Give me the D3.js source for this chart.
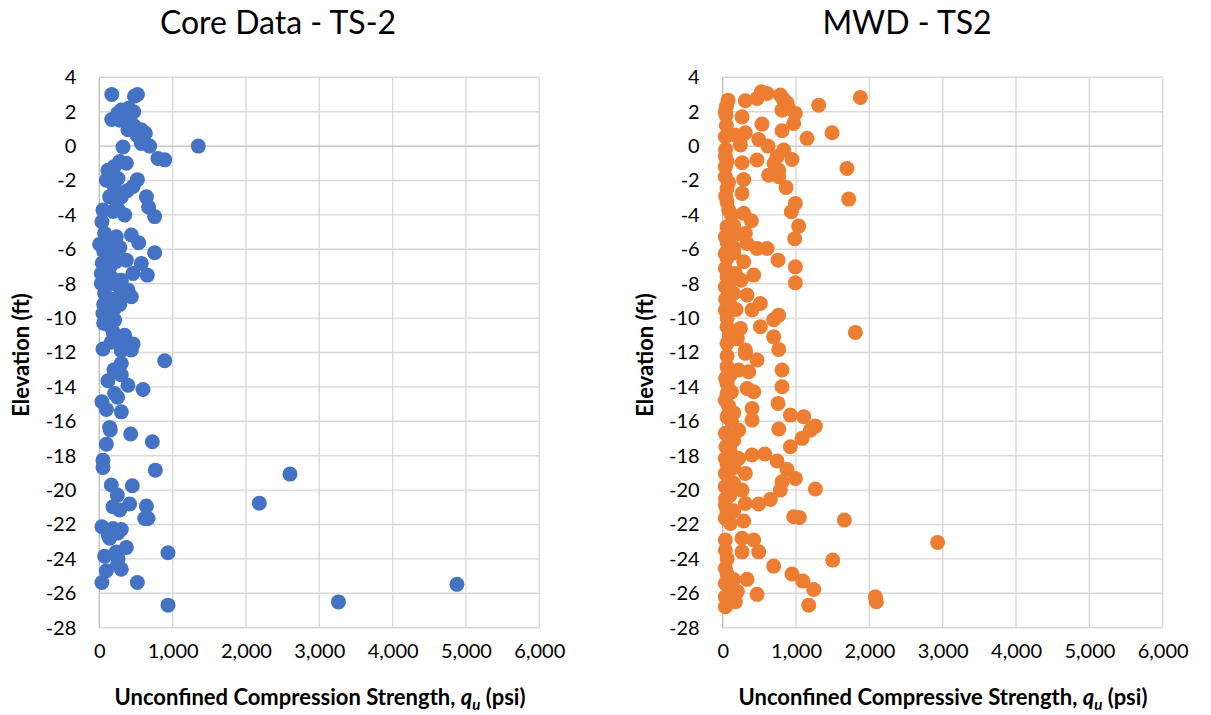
<!DOCTYPE html>
<html>
<head>
<meta charset="utf-8">
<script src="https://cdn.jsdelivr.net/npm/d3@7"></script>
<style>
  html, body { margin: 0; padding: 0; background: #fff; }
  svg { display: block; }
  text { font-family: Lato, "Open Sans", sans-serif; fill: #000; }
</style>
</head>
<body>
<svg id="chart" width="1211" height="715"></svg>
<script>
// Core samples: unconfined compression strength (psi) and elevation (ft)
const coreQu = [
  170, 480, 520, 300, 250, 400, 470, 170, 280, 355, 420, 391, 480, 573, 628, 520, 573, 687, 1350,
  800, 892, 323, 278, 200, 118, 369, 96, 255, 200, 519, 460, 380, 141, 300, 642, 230, 673, 755,
  346, 187, 50, 260, 36, 437, 537, 5, 73, 232, 120, 60, 180, 280, 755, 369, 573, 100, 230, 40,
  150, 655, 27, 27, 460, 300, 180, 100, 250, 80, 391, 437, 73, 300, 170, 60, 280, 200, 50, 120,
  209, 60, 130, 187, 346, 460, 160, 300, 50,
  300, 437, 892, 300, 300, 118, 391, 596, 209, 36, 96, 300, 141, 96, 428, 723, 50, 50, 764,
  164, 450, 246, 187, 278, 414, 642, 619, 664, 36, 187, 300, 141, 369, 937, 73, 255, 300, 96,
  36, 519, 937, 2600, 2182, 4877, 3261, 200, 250, 150, 120, 250, 230, 250
];
const coreElev = [
  3.0, 2.9, 3.0, 2.1, 1.9, 2.2, 2.0, 1.55, 1.5, 1.75, 1.5, 0.95, 1.15, 0.95, 0.75, 0.6, 0.15, 0.0, 0.0,
  -0.72, -0.8, -0.05, -0.9, -1.2, -1.4, -1.0, -1.98, -1.88, -2.3, -1.95, -2.35, -2.6, -2.95, -2.95, -2.95, -3.2, -3.55, -4.1,
  -4.0, -3.8, -3.72, -3.7, -4.4, -5.17, -5.62, -5.7, -5.08, -5.27, -5.5, -6.1, -6.0, -5.9, -6.2, -6.63, -6.82, -6.5, -6.7, -6.8,
  -7.0, -7.5, -7.4, -7.98, -7.4, -7.8, -7.7, -7.5, -8.1, -8.2, -8.37, -8.76, -8.57, -8.7, -8.9, -9.2, -9.2, -9.5, -9.73, -9.9,
  -10.12, -10.3, -10.4, -10.8, -11.0, -11.5, -11.4, -11.3, -11.8,
  -11.9, -11.85, -12.48, -12.64, -13.3, -13.64, -13.9, -14.15, -14.38, -14.86, -15.31, -15.45, -16.36, -17.33, -16.74, -17.19, -18.26, -18.68, -18.84,
  -19.7, -19.75, -20.29, -20.97, -21.16, -20.81, -20.93, -21.65, -21.65, -22.13, -22.23, -22.29, -22.8, -23.33, -23.64, -23.84, -23.97, -24.6, -24.69,
  -25.37, -25.37, -26.69, -19.07, -20.76, -25.48, -26.5, -13.0, -14.6, -16.5, -22.6, -22.5, -23.6, -24.3
];

// MWD-derived strength (psi) and elevation (ft)
const mwdQu = [
  73, 36, 45, 309, 468, 527, 605, 786, 877, 830, 991, 968, 809, 900, 1309, 1877, 264, 536, 809, 1150,
  1491, 36, 173, 309, 240, 491, 618, 241, 36, 264, 468, 741, 832, 945, 700, 1695, 36, 36, 286, 627,
  764, 764, 864, 59, 264, 59, 82, 991, 936, 1718, 286, 391, 1036, 59, 150, 982, 36, 309, 200, 332,
  468, 605, 36, 150, 755, 991, 991, 36, 150, 286, 423, 332, 36, 173, 250, 100, 36, 182, 400, 514,
  764, 695, 59, 241, 150, 514, 1809, 695, 59, 309, 764, 200,
  309, 468, 59, 218, 355, 809, 59, 332, 423, 809, 36, 120, 400, 755, 923, 1105, 1264, 1195, 764, 400,
  59, 150, 36, 1082, 923, 45, 218, 150, 36, 218, 400, 573, 741, 877, 991, 809, 786, 1264, 309, 36,
  150, 36, 264, 150, 650, 491, 309, 36, 968, 1045, 1659, 286, 36, 105, 150, 36, 264, 423, 491, 264,
  36, 1500, 695, 36, 945, 332, 1091, 1241, 1173, 468, 36, 36, 173, 36, 120, 2082, 2095, 2930,
  50, 50, 40, 60, 80, 40, 120, 100, 60, 150, 60, 60, 80, 40, 100, 60, 90, 60, 100, 40,
  60, 80, 120, 80, 100, 60, 80, 100, 40, 60, 60, 60, 150, 200, 100
];
const mwdElev = [
  2.67, 2.0, 1.8, 2.64, 2.77, 3.16, 3.06, 2.97, 2.52, 2.7, 1.9, 1.32, 2.09, 2.2, 2.38, 2.83, 1.7, 1.28, 0.89, 0.45,
  0.78, 0.54, 0.64, 0.78, 0.4, 0.39, 0.0, 0.06, -0.58, -0.97, -0.81, -0.62, -0.23, -0.78, -1.0, -1.3, -1.2, -1.78, -1.94, -1.69,
  -1.78, -1.4, -2.4, -2.46, -2.75, -3.24, -3.72, -3.33, -3.82, -3.08, -3.91, -4.34, -4.65, -4.69, -4.6, -5.39, -5.27, -5.08, -5.1, -5.66,
  -5.95, -5.95, -6.24, -6.2, -6.63, -7.02, -7.95, -8.18, -8.57, -6.72, -7.5, -8.66, -7.1, -7.4, -7.8, -7.9, -9.53, -9.5, -9.53, -9.15,
  -9.83, -10.1, -10.5, -10.6, -10.9, -10.5, -10.83, -11.09, -11.47, -11.86, -11.82, -11.2,
  -12.05, -12.44, -12.83, -13.02, -13.12, -13.02, -13.8, -14.09, -14.28, -13.99, -14.77, -14.3, -15.25, -14.96, -15.64, -15.74, -16.28, -16.51, -16.45, -15.93,
  -15.74, -15.5, -16.7, -16.99, -17.48, -17.48, -16.51, -17.1, -18.16, -18.16, -17.96, -17.9, -18.31, -18.8, -19.32, -19.52, -20.0, -19.94, -19.03, -19.03,
  -18.7, -19.8, -20.0, -19.6, -20.54, -20.81, -20.78, -20.87, -21.55, -21.59, -21.74, -21.8, -21.65, -21.94, -21.2, -22.9, -22.8, -22.9, -23.59, -23.59,
  -23.5, -24.07, -24.42, -24.55, -24.88, -25.19, -25.29, -25.78, -26.69, -26.06, -25.43, -26.2, -26.49, -26.78, -25.6, -26.2, -26.49, -23.04,
  2.3, 1.2, -0.2, -0.9, -2.1, -2.9, -4.0, -4.9, -5.6, -5.9, -6.5, -7.6, -8.4, -8.9, -9.2, -10.0, -11.0, -12.2, -13.3, -13.5,
  -14.4, -15.1, -16.0, -16.9, -17.7, -18.5, -19.3, -20.3, -20.5, -21.2, -24.0, -24.9, -25.2, -25.9, -26.3
];

// Axis ticks shared by both panels
const xTicks = [0, 1000, 2000, 3000, 4000, 5000, 6000];
const yTicks = [4, 2, 0, -2, -4, -6, -8, -10, -12, -14, -16, -18, -20, -22, -24, -26, -28];

const svg = d3.select("#chart");
svg.append("rect").attr("width", 1211).attr("height", 715).attr("fill", "#fff");

function drawPanel(opt) {
  const x = d3.scaleLinear().domain([0, 6000]).range([opt.left, opt.left + 440]);
  const y = d3.scaleLinear().domain([-28, 4]).range([627.7, 77.3]);
  const g = svg.append("g");

  // Gridlines
  g.append("g").selectAll("line").data(xTicks).join("line")
    .attr("x1", d => x(d)).attr("x2", d => x(d))
    .attr("y1", y(4)).attr("y2", y(-28))
    .attr("stroke", d => d === 0 ? "#bfbfbf" : "#d9d9d9").attr("stroke-width", 1.4);
  g.append("g").selectAll("line").data(yTicks).join("line")
    .attr("x1", x(0)).attr("x2", x(6000))
    .attr("y1", d => y(d)).attr("y2", d => y(d))
    .attr("stroke", d => d === 0 ? "#bfbfbf" : "#d9d9d9").attr("stroke-width", 1.4);

  // Tick labels
  const yAxis = d3.axisLeft(y).tickValues(yTicks).tickSize(0).tickPadding(23)
    .tickFormat(d => String(d));
  const ya = g.append("g").attr("transform", `translate(${x(0)},0)`).call(yAxis);
  ya.select(".domain").remove();
  ya.selectAll("text").attr("font-size", 20).attr("font-family", "Lato, sans-serif").attr("fill", "#000");

  const xAxis = d3.axisBottom(x).tickValues(xTicks).tickSize(0).tickPadding(16)
    .tickFormat(d3.format(","));
  const xa = g.append("g").attr("transform", `translate(0,${y(-28)})`).call(xAxis);
  xa.select(".domain").remove();
  xa.selectAll("text").attr("font-size", 20).attr("font-family", "Lato, sans-serif").attr("fill", "#000");

  // Markers
  const pts = opt.qu.map((q, i) => [q, opt.elev[i]]);
  g.append("g").selectAll("circle").data(pts).join("circle")
    .attr("cx", d => x(d[0])).attr("cy", d => y(d[1]))
    .attr("r", 7.5).attr("fill", opt.color);

  // Chart title
  g.append("text").attr("x", opt.titleX).attr("y", 34)
    .attr("text-anchor", "middle").attr("font-size", 32)
    .text(opt.title);

  // Y axis title
  g.append("text")
    .attr("transform", `translate(${opt.yTitleX},355) rotate(-90)`)
    .attr("text-anchor", "middle").attr("font-size", 22).attr("font-weight", "bold")
    .text("Elevation (ft)");

  // X axis title with italic q subscript u
  const xt = g.append("text").attr("x", opt.xTitleX).attr("y", 705)
    .attr("text-anchor", "middle").attr("font-size", 22).attr("font-weight", "bold");
  xt.append("tspan").text(opt.xTitle + ", ");
  xt.append("tspan").attr("font-style", "italic").text("q");
  xt.append("tspan").attr("font-style", "italic").attr("font-size", 15).attr("dy", 5).text("u");
  xt.append("tspan").attr("dy", -5).text(" (psi)");
}

drawPanel({
  left: 99.3, qu: coreQu, elev: coreElev, color: "#4472C4",
  title: "Core Data - TS-2", titleX: 278, yTitleX: 29, xTitleX: 320,
  xTitle: "Unconfined Compression Strength"
});
drawPanel({
  left: 722.7, qu: mwdQu, elev: mwdElev, color: "#ED7D31",
  title: "MWD - TS2", titleX: 907, yTitleX: 653, xTitleX: 943,
  xTitle: "Unconfined Compressive Strength"
});
</script>
</body>
</html>
